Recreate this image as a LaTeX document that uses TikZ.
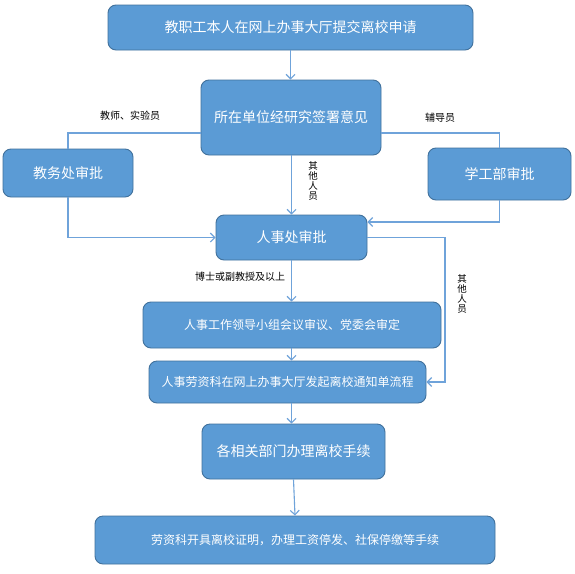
\documentclass[tikz,border=0pt]{standalone}
\usepackage{fontspec}
\setmainfont{Noto Sans CJK SC}
\usetikzlibrary{arrows.meta}
\definecolor{boxfill}{HTML}{5B9BD5}
\definecolor{boxline}{HTML}{41719C}
\definecolor{conn}{HTML}{6FA3DA}
\tikzset{
  flowbox/.style={draw=boxline, line width=0.9pt, fill=boxfill, rounded corners=8pt,
    text=white, align=center, inner sep=0pt},
  conline/.style={draw=conn, line width=1.1pt},
  conarrow/.style={conline, -{Straight Barb[length=4.5pt,width=9pt]}},
  lbl/.style={text=black, inner sep=0pt, font=\fontsize{10}{11}\selectfont},
  vlbl/.style={text=black, inner sep=0pt, align=center, text width=12pt, font=\fontsize{9.5}{10}\selectfont}
}
\begin{document}
\begin{tikzpicture}[x=1pt,y=-1pt]
\fill[white] (0,0) rectangle (575,573);
\useasboundingbox (0,0) rectangle (575,573);

\node[flowbox, minimum width=365pt, minimum height=45pt, font=\fontsize{14}{16}\selectfont] (b1) at (290.5,27.5) {教职工本人在网上办事大厅提交离校申请};
\node[flowbox, minimum width=180pt, minimum height=75pt, font=\fontsize{14}{16}\selectfont] (b2) at (291,117.5) {所在单位经研究签署意见};
\node[flowbox, minimum width=130pt, minimum height=48pt, font=\fontsize{14}{16}\selectfont] (jw) at (68,173) {教务处审批};
\node[flowbox, minimum width=143pt, minimum height=52pt, font=\fontsize{14}{16}\selectfont] (xg) at (499.5,174) {学工部审批};
\node[flowbox, minimum width=151pt, minimum height=45pt, font=\fontsize{14}{16}\selectfont] (rs) at (291.5,237.5) {人事处审批};
\node[flowbox, minimum width=298pt, minimum height=46pt, font=\fontsize{12}{14}\selectfont] (ld) at (292,325) {人事工作领导小组会议审议、党委会审定};
\node[flowbox, minimum width=277pt, minimum height=42pt, font=\fontsize{12}{14}\selectfont] (rl) at (287.5,382) {人事劳资科在网上办事大厅发起离校通知单流程};
\node[flowbox, minimum width=183pt, minimum height=55pt, font=\fontsize{14}{16}\selectfont] (gx) at (293.5,451.5) {各相关部门办理离校手续};
\node[flowbox, minimum width=400pt, minimum height=48pt, font=\fontsize{12}{14}\selectfont] (lz) at (295,540) {劳资科开具离校证明，办理工资停发、社保停缴等手续};

\coordinate (ya) at (0,133);
\coordinate (yb) at (0,222);
\coordinate (xr) at (445,0);

\draw[conarrow] (b1.south) -- (b1.south |- b2.north);
\draw[conline] (b2.west |- ya) -| (jw.north);
\draw[conline] (b2.east |- ya) -| (xg.north);
\draw[conarrow] (b2.south -| rs.north) -- (rs.north);
\draw[conarrow] (jw.south) |- (rs.west);
\draw[conarrow] (xg.south) |- (rs.east |- yb);
\draw[conarrow] (rs.east) -- (rs.east -| xr) |- (rl.east);
\draw[conarrow] (rs.south) -- (rs.south |- ld.north);
\draw[conarrow] (ld.south -| rs.south) -- (rl.north -| rs.south);
\draw[conarrow] (rl.south -| rs.south) -- (gx.north -| rs.south);
\draw[conarrow] (gx.south) -- (lz.north);

\node[lbl] (l1) at (130,116) {教师、实验员};
\node[lbl] (l2) at (440,118) {辅导员};
\node[vlbl] (l3) at (313,181) {其\par 他\par 人\par 员};
\node[lbl] (l4) at (240,277) {博士或副教授及以上};
\node[vlbl] (l5) at (462,294) {其\par 他\par 人\par 员};
\end{tikzpicture}
\end{document}
